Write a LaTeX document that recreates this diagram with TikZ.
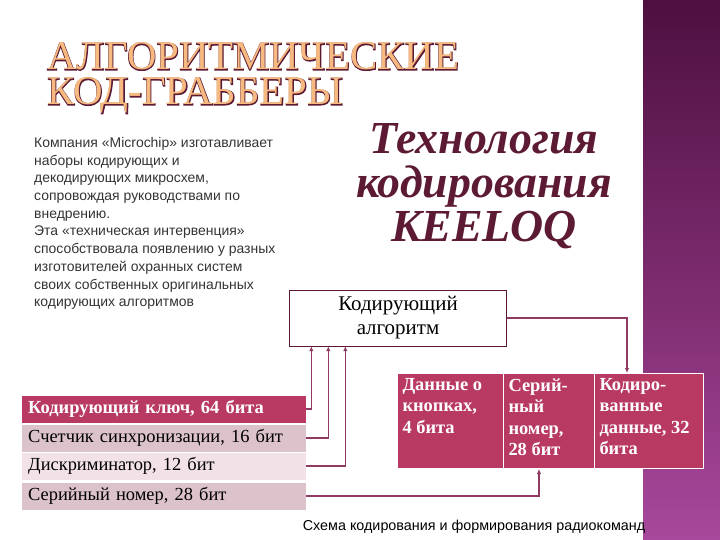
\documentclass[tikz,border=0pt]{standalone}
\usepackage{fontspec}
\setmainfont{Liberation Serif}
\newfontfamily\sansfont{Liberation Sans}
\newfontfamily\headfont{Liberation Serif}
\newfontfamily\headedge[FakeBold=3]{Liberation Serif}
\usetikzlibrary{arrows.meta,calc}
\definecolor{wine}{HTML}{B83A63}
\definecolor{winedark}{HTML}{5C1A34}
\definecolor{linkcol}{HTML}{8E3A63}
\definecolor{rowlight}{HTML}{DCC2CB}
\definecolor{rowpale}{HTML}{F2E2E7}
\definecolor{peach}{HTML}{F6BA80}
\definecolor{panel}{HTML}{4D1040}
\definecolor{panelmid}{HTML}{7A2A6C}
\definecolor{panellow}{HTML}{A8489C}
\newcommand{\outlined}[1]{\rlap{\headedge\color{winedark}#1}{\headfont\color{peach}#1}}
\begin{document}
\begin{tikzpicture}[x=1bp, y=-1bp,
    row/.style={anchor=west, inner xsep=6bp, inner ysep=0bp, minimum height=27bp,
        text width=272bp, align=left, font=\fontsize{18.5}{20}\selectfont},
    cell/.style={anchor=north west, fill=wine, draw=white, line width=1bp, inner sep=5bp,
        text=white, font=\bfseries\fontsize{18.5}{21.5}\selectfont},
    link/.style={draw=linkcol, line width=1.3bp, -{Latex[length=5bp,width=4.5bp]}}]
    \useasboundingbox (0,0) rectangle (720,540);

    % Side panel
    \shade[top color=panel, bottom color=panellow, middle color=panelmid] (643,0) rectangle (720,540);

    % Title
    \node[anchor=base west, inner sep=1pt, font=\fontsize{41}{35}\selectfont] (title) at (46,70)
        {\outlined{АЛГОРИТМИЧЕСКИЕ}};
    \node[anchor=base west, inner sep=1pt, font=\fontsize{41}{35}\selectfont] (title2) at (46,105)
        {\outlined{КОД-ГРАББЕРЫ}};

    % Text
    \node[anchor=north west, align=left, text=black!80, inner sep=0pt,
        font=\sansfont\fontsize{14}{17.8}\selectfont] (about) at (34,137)
        {Компания «Microchip» изготавливает\\ наборы кодирующих и\\ декодирующих микросхем,\\
         сопровождая руководствами по\\ внедрению.\\ Эта «техническая интервенция»\\
         способствовала появлению у разных\\ изготовителей охранных систем\\
         своих собственных оригинальных\\ кодирующих алгоритмов};

    \node[align=center, text=winedark, font=\itshape\bfseries\fontsize{46}{44}\selectfont] (keeloq) at (484,186)
        {Технология\\ кодирования\\ KEELOQ};

    % Algorithm
    \node[draw=winedark, fill=white, minimum width=217bp, minimum height=56bp, align=center,
        font=\fontsize{21}{24}\selectfont] (algo) at (398,318) {Кодирующий\\ алгоритм};

    % Packet
    \node[cell] (buttons) at (397,373) {\parbox[t][85bp][t]{96bp}{Данные о\\ кнопках,\\ 4 бита}};
    \node[cell] (number) at (503,373) {\parbox[t][85bp][t]{81bp}{Серий-\\ ный\\ номер,\\ 28 бит}};
    \node[cell] (coded) at (594,373) {\parbox[t][85bp][t]{99bp}{Кодиро-\\ ванные\\ данные, 32\\ бита}};

    % Table
    \node[row, fill=wine, text=white, font=\bfseries\fontsize{18.5}{20}\selectfont] (key) at (22,409) {Кодирующий ключ, 64 бита};
    \node[row, fill=rowlight] (counter) at (22,438) {Счетчик синхронизации, 16 бит};
    \node[row, fill=rowpale] (discr) at (22,466) {Дискриминатор, 12 бит};
    \node[row, fill=rowlight] (serial) at (22,496) {Серийный номер, 28 бит};

    % Links
    \coordinate (in1) at ($(algo.south west)+(22,0)$);
    \coordinate (in2) at ($(algo.south west)+(39,0)$);
    \coordinate (in3) at ($(algo.south west)+(56,0)$);
    \coordinate (in4) at ($(number.south)+(-10,0)$);
    \coordinate (in5) at ($(coded.north)+(-22,0)$);
    \draw[link] (key.east) -| (in1);
    \draw[link] (counter.east) -| (in2);
    \draw[link] (discr.east) -| (in3);
    \draw[link] (serial.east) -| (in4);
    \draw[link] (algo.east) -| (in5);

    \node[anchor=base, font=\sansfont\fontsize{14.4}{16}\selectfont] (caption) at (474,530)
        {Схема кодирования и формирования радиокоманд};
\end{tikzpicture}
\end{document}
